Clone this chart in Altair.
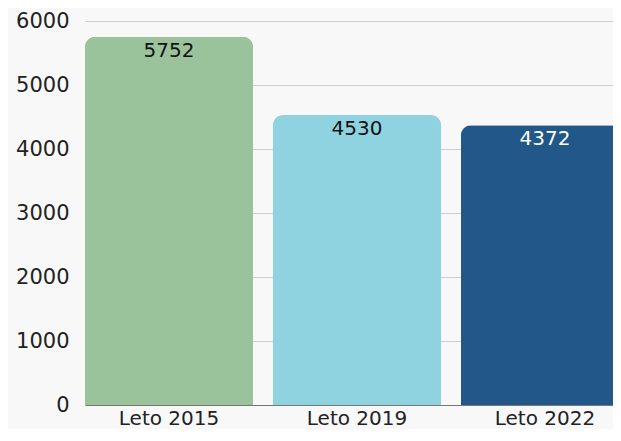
import altair as alt
import pandas as pd

categories = ["Leto 2015", "Leto 2019", "Leto 2022"]
values = [5752, 4530, 4372]
colors = ["#9AC39C", "#8FD3E0", "#22578A"]
text_colors = ["#111111", "#111111", "#ffffff"]

df = pd.DataFrame({"cat": categories, "val": values, "tc": text_colors})

FONT = "DejaVu Sans"

xscale = alt.Scale(paddingInner=0.106, paddingOuter=0, range=[0, 544])
x = alt.X("cat:N", sort=categories, title=None, scale=xscale,
          axis=alt.Axis(labelAngle=0, labelFontSize=20, labelFont=FONT,
                        labelColor="#222222", ticks=False, domain=True,
                        domainColor="#777777", labelPadding=3))
y = alt.Y("val:Q", title=None,
          scale=alt.Scale(domain=[0, 6000], nice=False),
          axis=alt.Axis(values=[0, 1000, 2000, 3000, 4000, 5000, 6000], format="d",
                        labelFontSize=21, labelFont=FONT, labelColor="#222222",
                        ticks=False, domain=False, gridColor="#cfcfcf",
                        labelPadding=16))

bars = alt.Chart(df).mark_bar(cornerRadiusTopLeft=10, cornerRadiusTopRight=10).encode(
    x=x, y=y,
    color=alt.Color("cat:N", sort=categories,
                    scale=alt.Scale(domain=categories, range=colors), legend=None),
)

labels = alt.Chart(df).mark_text(baseline="top", dy=4, fontSize=20, font=FONT).encode(
    x=alt.X("cat:N", sort=categories, scale=xscale),
    y=alt.Y("val:Q"),
    text=alt.Text("val:Q", format="d"),
    color=alt.Color("tc:N", scale=None),
)

chart = (bars + labels).properties(
    width=528, height=384, background="#f8f8f8",
    padding={"left": 77, "top": 13, "right": 0, "bottom": 24},
    autosize=alt.AutoSizeParams(type="none"),
).configure_view(strokeWidth=0)

chart.save("out.html", embed_options={"renderer": "svg", "actions": False})
